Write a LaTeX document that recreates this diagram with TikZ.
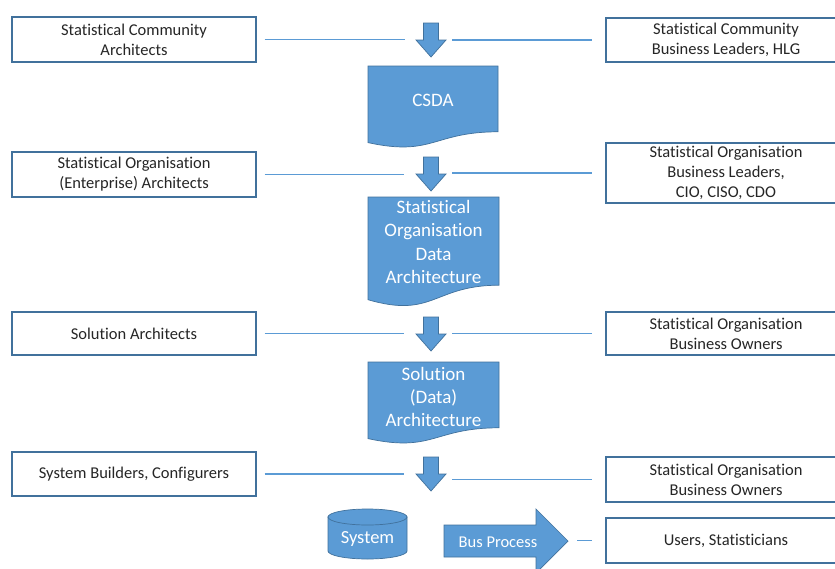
\documentclass[tikz,border=0pt]{standalone}
\usepackage{fontspec}
\setmainfont{Carlito}[Ligatures={NoCommon,NoContextual},Contextuals=NoAlternate]
\definecolor{ofblue}{HTML}{5B9BD5}
\definecolor{ofedge}{HTML}{41719C}
\definecolor{txt}{HTML}{262626}
\begin{document}
\begin{tikzpicture}[x=1pt,y=-1pt,
 box/.style={draw=ofedge, line width=1.1pt, fill=white, minimum width=244pt, minimum height=45pt, align=center, text=txt, font=\fontsize{16.5}{20}\selectfont, inner sep=0pt},
 rbox/.style={box, minimum width=240pt},
 conn/.style={draw=ofblue, line width=1.3pt},
 shapefill/.style={fill=ofblue, draw=ofedge, line width=0.7pt},
 doctext/.style={text=white, align=center, font=\fontsize{19}{23.3}\selectfont, inner sep=0pt},
 downarr/.pic={\path[shapefill] (-7.5,0) -- (7.5,0) -- (7.5,17) -- (15,17) -- (0,34) -- (-15,17) -- (-7.5,17) -- cycle;}
]
\clip (0,0) rectangle (835,568);
\fill[white] (0,0) rectangle (835,568);

% left boxes
\node[box] (l1) at (134,39.5) {Statistical Community\\Architects};
\node[box] (l2) at (134,174.5) {Statistical Organisation\\(Enterprise) Architects};
\node[box, minimum height=43pt] (l3) at (134,333.5) {Solution Architects};
\node[box, minimum height=44pt] (l4) at (134,474) {System Builders, Configurers};

% right boxes
\node[rbox, minimum height=44pt] (r1) at (726,40) {Statistical Community\\Business Leaders, HLG};
\node[rbox, minimum height=60pt] (r2) at (726,173) {Statistical Organisation\\Business Leaders,\\CIO, CISO, CDO};
\node[rbox, minimum height=43pt] (r3) at (726,333.5) {Statistical Organisation\\Business Owners};
\node[rbox] (r4) at (726,479.5) {Statistical Organisation\\Business Owners};
\node[rbox] (r5) at (726,540.5) {Users, Statisticians};

% down arrows
\pic at (431,23) {downarr};
\pic at (431,157) {downarr};
\pic at (431,317) {downarr};
\pic at (431,457) {downarr};

\coordinate (a1l) at (405,40);  \coordinate (a1r) at (452,40);
\coordinate (a2l) at (404,174); \coordinate (a2r) at (452,174);
\coordinate (a3l) at (404,333); \coordinate (a3r) at (452,333);
\coordinate (a4l) at (404,473); \coordinate (a4r) at (452,479);

\draw[conn, shorten <=8pt] (l1.east) -- (l1.east -| a1l);
\draw[conn, shorten <=8pt] (l2.east) -- (l2.east -| a2l);
\draw[conn, shorten <=8pt] (l3.east) -- (l3.east -| a3l);
\draw[conn, shorten <=8pt] (l4.east) -- (l4.east -| a4l);
\draw[conn, shorten >=13pt] (a1r |- r1.west) -- (r1.west);
\draw[conn, shorten >=13pt] (a2r |- r2.west) -- (r2.west);
\draw[conn, shorten >=13pt] (a3r |- r3.west) -- (r3.west);
\draw[conn, shorten >=13pt] (a4r |- r4.west) -- (r4.west);

% documents
\path[shapefill] (368,66) -- (498,66) -- (498,131.8) .. controls (433,131.8) and (433,156.8) .. (368,142.6) -- cycle;
\node[doctext] (csda) at (433,100) {CSDA};
\path[shapefill] (368,197) -- (499,197) -- (499,285.2) .. controls (433.5,285.2) and (433.5,318.8) .. (368,299.7) -- cycle;
\node[doctext] (soda) at (433.5,242) {Statistical\\Organisation\\Data\\Architecture};
\path[shapefill] (368,362) -- (499,362) -- (499,427.8) .. controls (433.5,427.8) and (433.5,452.8) .. (368,438.6) -- cycle;
\node[doctext] (sol) at (433.5,397) {Solution\\(Data)\\Architecture};

% cylinder
\path[shapefill] (328,517) -- (328,551) .. controls (328,555.4) and (345.7,559) .. (367.5,559) .. controls (389.3,559) and (407,555.4) .. (407,551) -- (407,517) -- cycle;
\path[shapefill] (367.5,517) ellipse [x radius=39.5, y radius=8];
\node[doctext, font=\fontsize{18.5}{22}\selectfont] (sys) at (367.5,539) {System};

% bus process arrow
\path[shapefill] (444,525) -- (536,525) -- (536,509) -- (568,541) -- (536,573) -- (536,557) -- (444,557) -- cycle;
\node[doctext, font=\fontsize{16.5}{20}\selectfont] (bus) at (498,542) {Bus Process};
\coordinate (bustip) at (568,541);
\draw[conn, shorten <=9pt, shorten >=13pt] (bustip |- r5.west) -- (r5.west);
\end{tikzpicture}
\end{document}
